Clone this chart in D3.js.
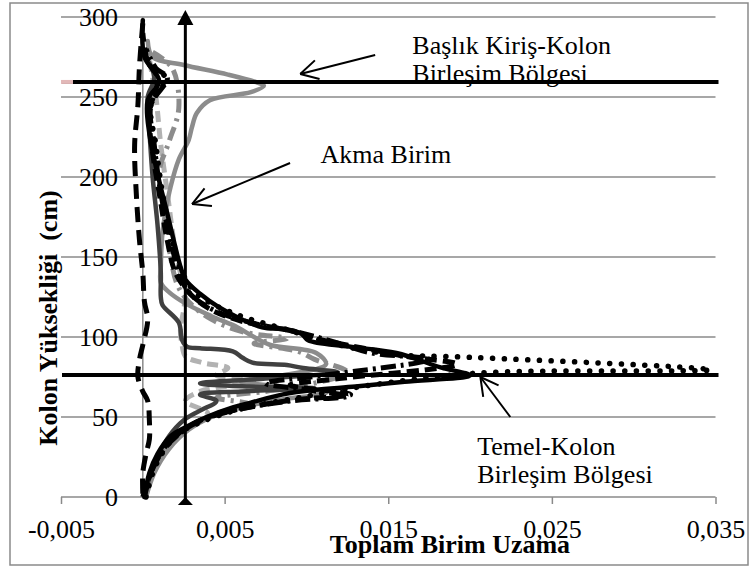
<!DOCTYPE html>
<html>
<head>
<meta charset="utf-8">
<script src="https://cdn.jsdelivr.net/npm/d3@7"></script>
<style>
    html, body { margin: 0; padding: 0; background: #fff; }
    #chart { width: 752px; height: 566px; }
    svg text { font-family: "Liberation Serif", "DejaVu Serif", "Times New Roman", Times, serif; }
</style>
</head>
<body>
<div id="chart"></div>
<script>
// axis ticks
const xTicks = [-0.005, 0.005, 0.015, 0.025, 0.035];
const xTickLabels = ['-0,005', '0,005', '0,015', '0,025', '0,035'];
const yTicks = [0, 50, 100, 150, 200, 250, 300];

// reference lines
const yieldStrain = 0.0026;
const jointHeights = [259.4, 76.25];

// series: [total unit strain, column height (cm)]
const grayBump = [[0.0002,0],[0.0007,15],[0.0016,30],[0.0028,42],[0.0042,50],[0.006,56],[0.0085,61],[0.0112,65],[0.0085,69],[0.006,72],[0.0085,76],[0.0112,83],[0.0106,90],[0.0078,95],[0.0068,100],[0.0058,106],[0.0042,113],[0.0026,121],[0.0016,128],[0.0011,134],[0.0011,144],[0.0012,165],[0.0014,179],[0.0017,194],[0.0022,211],[0.0028,223],[0.003,231],[0.0033,240],[0.0041,248],[0.0066,253],[0.0074,257],[0.007,259],[0.0052,264],[0.0025,270],[0.0006,275],[0.0003,285]];
const darkGray = [[0.0001,0],[0.0004,12],[0.0009,25],[0.0016,38],[0.0025,48],[0.0035,54],[0.0045,60],[0.0035,64],[0.006,66],[0.0105,68],[0.0065,69],[0.0035,71],[0.0075,74],[0.0119,78],[0.0098,80.6],[0.0088,82.5],[0.0067,84],[0.0061,87],[0.0055,91],[0.0035,93],[0.0027,94],[0.0024,98],[0.0022,109],[0.0012,120],[0.0011,125],[0.0011,140],[0.0009,170],[0.0006,200],[0.0004,230],[0.0003,250],[0.0007,262],[0.0002,275]];
const grayDashDot = [[0.0001,0],[0.0006,15],[0.0015,30],[0.0027,42],[0.0045,52],[0.0065,58],[0.0045,62],[0.0075,66],[0.01,70],[0.0125,78],[0.0105,86],[0.0095,91],[0.0068,96],[0.0088,99],[0.0062,103],[0.0042,111],[0.0028,122],[0.0021,133],[0.0017,150],[0.0014,175],[0.001,203],[0.0016,222],[0.0022,243],[0.0018,268],[0.0006,278]];
const lightGrayDash = [[0.0001,0],[0.0006,17],[0.0016,33],[0.0028,43],[0.004,52],[0.0026,60],[0.0035,66],[0.0056,70],[0.0068,73],[0.0045,76],[0.0052,80.6],[0.0036,84],[0.0026,88],[0.0024,95],[0.0023,105],[0.0025,117],[0.0026,130],[0.0023,140],[0.0019,160],[0.0015,190],[0.0011,220],[0.0008,250],[0.0006,262],[0.0003,280]];
const blackLongDash = [[0,296],[-0.0002,270],[-0.0003,245],[-0.0005,220],[-0.0004,190],[-0.0002,160],[0,140],[0.0001,122],[0.0003,111],[0,95],[-0.0002,86],[-0.0003,75],[0,66],[0.0003,60],[0.0004,48],[0.0004,36],[0.0002,27],[0,15],[0,2]];
const blackDot = [[0.0002,0],[0.0008,20],[0.002,38],[0.0036,47],[0.006,55],[0.0095,62],[0.014,70],[0.0205,77.5],[0.0347,79.5],[0.0195,87.5],[0.0155,89],[0.012,95],[0.009,104],[0.0055,115],[0.0033,127],[0.0022,145],[0.0017,165],[0.0012,190],[0.0008,220],[0.0005,245],[0.0014,262],[0.0006,268],[0.0002,275]];
const blackDashDot = [[0.0001,0],[0.0005,15],[0.0013,30],[0.003,45],[0.0055,54],[0.009,60],[0.0125,63],[0.01,67],[0.0075,71],[0.011,76],[0.0175,86],[0.014,90],[0.012,96],[0.0095,103],[0.007,108],[0.0045,116],[0.003,126],[0.0024,135],[0.0017,160],[0.0011,190],[0.0007,220],[0.0005,245],[0.0015,262],[0.0008,268],[0.0002,280]];
const blackDash = [[0,0],[0.0006,18],[0.0014,32],[0.0025,42],[0.004,50],[0.007,57],[0.0095,61],[0.0127,64],[0.009,70],[0.012,74],[0.0192,83],[0.016,88],[0.0135,93],[0.011,98],[0.009,104],[0.006,110],[0.004,118],[0.0028,128],[0.002,140],[0.0015,160],[0.001,190],[0.0006,215],[0.0004,240],[0.0009,262],[0.0003,272],[0,290]];
const blackSolid = [[0.0001,0],[0.0004,15],[0.0009,27],[0.0017,38],[0.0027,44],[0.0039,50],[0.0055,56],[0.0066,59],[0.0085,64],[0.0105,67],[0.013,69],[0.016,72],[0.02,76],[0.0182,81],[0.0155,90],[0.0126,94],[0.0101,98],[0.0097,102],[0.0087,105],[0.0073,106],[0.0046,119],[0.0035,127],[0.0026,136],[0.0023,144],[0.0015,177],[0.0009,202],[0.0004,227],[0.0003,248],[0.001,260],[0.0001,275],[0,298]];

const FONT = '"Liberation Serif", "DejaVu Serif", "Times New Roman", Times, serif';

class StrainChart {
    constructor(containerId) {
        this.container = document.getElementById(containerId);
        this.width = 752;
        this.height = 566;
        this.plot = { left: 61, right: 715.5, top: 17, bottom: 497 };
        this.render();
    }

    arrow(g, x1, y1, x2, y2) {
        const ang = Math.atan2(y1 - y2, x1 - x2);
        const len = 20, spread = 0.5;
        g.append('line')
            .attr('x1', x1).attr('y1', y1).attr('x2', x2).attr('y2', y2)
            .attr('stroke', '#000').attr('stroke-width', 2);
        [ang - spread, ang + spread].forEach(a => {
            g.append('line')
                .attr('x1', x2).attr('y1', y2)
                .attr('x2', x2 + len * Math.cos(a)).attr('y2', y2 + len * Math.sin(a))
                .attr('stroke', '#000').attr('stroke-width', 2);
        });
    }

    render() {
        const p = this.plot;
        const svg = d3.select(this.container)
            .append('svg')
            .attr('width', this.width)
            .attr('height', this.height)
            .attr('font-family', FONT);

        // chart border
        svg.append('rect')
            .attr('x', 10).attr('y', 3)
            .attr('width', 738).attr('height', 562)
            .attr('fill', 'none').attr('stroke', '#8a8a8a').attr('stroke-width', 1.5);

        const x = d3.scaleLinear().domain([-0.005, 0.035]).range([p.left, p.right]);
        const y = d3.scaleLinear().domain([0, 300]).range([p.bottom, p.top]);

        // gridlines
        svg.append('g')
            .selectAll('line')
            .data(yTicks.filter(d => d > 0))
            .join('line')
            .attr('x1', p.left).attr('x2', p.right)
            .attr('y1', d => y(d)).attr('y2', d => y(d))
            .attr('stroke', '#8a8a8a').attr('stroke-width', 1.5);

        // x axis
        const xAxis = svg.append('g')
            .attr('transform', `translate(0,${p.bottom})`)
            .call(d3.axisBottom(x).tickValues(xTicks).tickSize(7).tickFormat((d, i) => xTickLabels[i]));
        xAxis.attr('font-family', FONT).attr('font-size', 26);
        xAxis.select('.domain').attr('stroke', '#8a8a8a').attr('stroke-width', 1.5)
            .attr('d', `M${p.left},0H${p.right}`);
        xAxis.selectAll('.tick line').attr('stroke', '#8a8a8a').attr('stroke-width', 1.5);
        xAxis.selectAll('.tick text')
            .attr('y', 41).attr('dy', 0)
            .style('font-family', FONT)
            .style('font-size', '26px').attr('fill', '#000');

        // vertical axis line at x = 0
        svg.append('line')
            .attr('x1', x(0)).attr('x2', x(0))
            .attr('y1', y(0)).attr('y2', y(300))
            .attr('stroke', '#8a8a8a').attr('stroke-width', 1.5);

        // y tick labels
        svg.append('g')
            .selectAll('text')
            .data(yTicks)
            .join('text')
            .attr('x', 118)
            .attr('y', d => y(d) + 9)
            .attr('text-anchor', 'end')
            .style('font-family', FONT)
            .style('font-size', '26px')
            .text(d => d);

        // series
        const line = d3.line()
            .x(d => x(d[0]))
            .y(d => y(d[1]))
            .curve(d3.curveCatmullRom.alpha(0.5));

        const seriesList = [
            { data: lightGrayDash, color: '#b2b2b2', width: 5, dash: '11 6', cap: 'butt' },
            { data: grayBump, color: '#8c8c8c', width: 4.5, dash: null, cap: 'round' },
            { data: grayDashDot, color: '#8c8c8c', width: 5, dash: '14 6 3 6', cap: 'butt' },
            { data: darkGray, color: '#404040', width: 4.5, dash: null, cap: 'round' },
            { data: blackLongDash, color: '#000', width: 5, dash: '15 8', cap: 'butt' },
            { data: blackDashDot, color: '#000', width: 5, dash: '15 5 3 5', cap: 'butt' },
            { data: blackDash, color: '#000', width: 5, dash: '12 6', cap: 'butt' },
            { data: blackSolid, color: '#000', width: 4.5, dash: null, cap: 'round' },
            { data: blackDot, color: '#000', width: 5.5, dash: '0.1 11.6', cap: 'round' }
        ];

        svg.append('g')
            .selectAll('path')
            .data(seriesList)
            .join('path')
            .attr('d', d => line(d.data))
            .attr('fill', 'none')
            .attr('stroke', d => d.color)
            .attr('stroke-width', d => d.width)
            .attr('stroke-dasharray', d => d.dash)
            .attr('stroke-linecap', d => d.cap)
            .attr('stroke-linejoin', 'round');

        // joint region lines
        svg.append('g')
            .selectAll('line')
            .data(jointHeights)
            .join('line')
            .attr('x1', p.left + 1).attr('x2', p.right + 3)
            .attr('y1', d => y(d)).attr('y2', d => y(d))
            .attr('stroke', '#000').attr('stroke-width', 4);
        svg.append('line')
            .attr('x1', p.left).attr('x2', p.left + 12)
            .attr('y1', y(jointHeights[0])).attr('y2', y(jointHeights[0]))
            .attr('stroke', '#e2b8b8').attr('stroke-width', 4);

        // yield strain line with end markers
        const yx = x(yieldStrain);
        svg.append('line')
            .attr('x1', yx).attr('x2', yx)
            .attr('y1', y(0) + 4).attr('y2', y(300))
            .attr('stroke', '#000').attr('stroke-width', 3);
        svg.append('path')
            .attr('d', `M${yx},${y(300) - 7}L${yx - 8},${y(300) + 8}L${yx + 8},${y(300) + 8}Z`)
            .attr('fill', '#000');
        svg.append('path')
            .attr('d', `M${yx},${y(0)}L${yx - 7.5},${y(0) + 8}L${yx + 7.5},${y(0) + 8}Z`)
            .attr('fill', '#000');

        // annotations
        const ann = svg.append('g');
        const addText = (sx, sh, lines) => {
            const t = ann.append('text')
                .attr('x', x(sx)).attr('y', y(sh))
                .style('font-family', FONT)
                .style('font-size', '26px');
            lines.forEach((s, i) => {
                t.append('tspan').attr('x', x(sx)).attr('dy', i ? 28 : 0).text(s);
            });
        };
        addText(0.01647, 276.9, ['Başlık Kiriş-Kolon', 'Birleşim Bölgesi']);
        this.arrow(ann, x(0.0142), y(276.25), x(0.00962), y(264.4));
        addText(0.01086, 208.75, ['Akma Birim']);
        this.arrow(ann, x(0.009), y(208.75), x(0.00301), y(183.1));
        addText(0.02044, 26.25, ['Temel-Kolon', 'Birleşim Bölgesi']);
        this.arrow(ann, x(0.02246), y(50), x(0.02063), y(75));

        // axis titles
        svg.append('text')
            .attr('x', 450).attr('y', 553)
            .attr('text-anchor', 'middle')
            .style('font-family', FONT)
            .style('font-size', '26px').style('font-weight', 'bold')
            .text('Toplam Birim Uzama');
        svg.append('text')
            .attr('transform', 'translate(57,318) rotate(-90)')
            .attr('text-anchor', 'middle')
            .style('font-family', FONT)
            .style('font-size', '26px').style('font-weight', 'bold')
            .style('white-space', 'pre')
            .text('Kolon Yüksekliği  (cm)');
    }
}

new StrainChart('chart');
</script>
</body>
</html>
